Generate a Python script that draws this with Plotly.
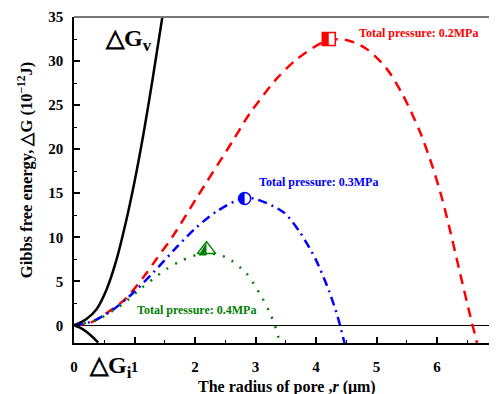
import plotly.graph_objects as go

# --- data ---
gv_r = [0, 0.2, 0.37, 0.54, 0.70, 0.85, 1.0, 1.15, 1.30, 1.46]
gv_g = [0, 0.7, 1.8, 4.1, 7.4, 11.5, 16.3, 21.8, 28.0, 35]

gi_r = [0, 0.1, 0.2, 0.32, 0.40]
gi_g = [0, -0.25, -0.7, -1.4, -1.95]

p02_r = [0, 0.27, 0.54, 0.85, 1.15, 1.36, 1.65, 2.02, 2.62, 2.9, 3.35, 3.68, 4.17, 4.5,
         4.83, 5.16, 5.43, 5.71, 5.93, 6.09, 6.21, 6.37, 6.54, 6.66]
p02_g = [0, 0.3, 1.4, 3.0, 5.5, 7.5, 10.3, 14.4, 20.9, 24.0, 28, 30.2, 32.3, 32.4,
         31.4, 29.2, 26.2, 22.1, 17.9, 14.2, 10.9, 6.2, 1.3, -2.0]

p03_r = [0, 0.32, 0.65, 0.98, 1.31, 1.7, 2.02, 2.35, 2.85, 3.45, 3.73, 4.0, 4.22, 4.36, 4.47]
p03_g = [0, 0.5, 1.8, 3.7, 6.0, 8.9, 11.1, 12.9, 14.5, 12.9, 10.6, 7.4, 3.8, 0.9, -2.0]

p04_r = [0, 0.37, 0.82, 1.11, 1.35, 1.53, 1.76, 2.16, 2.52, 2.85, 2.98, 3.12, 3.23, 3.31, 3.4]
p04_g = [0, 0.6, 2.5, 4.2, 5.5, 6.4, 7.3, 8.2, 7.7, 5.9, 4.6, 3.0, 1.5, 0.2, -1.9]

peak_r = [4.21, 2.82, 2.19]
peak_g = [32.5, 14.4, 8.6]

labels = ["Total pressure: 0.2MPa", "Total pressure: 0.3MPa", "Total pressure: 0.4MPa"]
label_r = [4.67, 3.02, 1.0]
label_g = [33.2, 16.3, 1.7]
colors = ["#ff0000", "#0000ff", "#008000"]

x_ticks = [0, 1, 2, 3, 4, 5, 6, 7]
y_ticks = [0, 5, 10, 15, 20, 25, 30, 35]

SERIF = "Liberation Serif"

fig = go.Figure()

fig.add_trace(go.Scatter(x=gv_r, y=gv_g, mode="lines",
                         line=dict(color="black", width=2.5, shape="spline", smoothing=0.8),
                         showlegend=False, hoverinfo="skip"))
fig.add_trace(go.Scatter(x=gi_r, y=gi_g, mode="lines",
                         line=dict(color="black", width=2.5, shape="spline", smoothing=0.8),
                         showlegend=False, hoverinfo="skip"))

fig.add_trace(go.Scatter(x=p02_r, y=p02_g, mode="lines",
                         line=dict(color=colors[0], width=2.5, dash="10px,7px", shape="spline", smoothing=0.8),
                         showlegend=False))
fig.add_trace(go.Scatter(x=p03_r, y=p03_g, mode="lines",
                         line=dict(color=colors[1], width=2.5, dash="9px,5px,2px,5px", shape="spline", smoothing=0.8),
                         showlegend=False))
fig.add_trace(go.Scatter(x=p04_r, y=p04_g, mode="lines",
                         line=dict(color=colors[2], width=2.5, dash="2px,8px", shape="spline", smoothing=0.8),
                         showlegend=False))

symbols = ["square", "circle", "triangle-up"]
sizes = [13, 12, 16]
for i in range(3):
    fig.add_trace(go.Scatter(x=[peak_r[i]], y=[peak_g[i]], mode="markers",
                             marker=dict(symbol=symbols[i], size=sizes[i], color="white",
                                         line=dict(color=colors[i], width=1.5)),
                             showlegend=False))

# half fills of the markers (pixel-sized, anchored at the marker data points)
fig.add_shape(type="rect", xref="x", yref="y", xsizemode="pixel", ysizemode="pixel",
              xanchor=peak_r[0], yanchor=peak_g[0], x0=-6.5, x1=0, y0=-6.5, y1=6.5,
              fillcolor=colors[0], line=dict(width=0), layer="above")
fig.add_shape(type="path", xref="x", yref="y", xsizemode="pixel", ysizemode="pixel",
              xanchor=peak_r[1], yanchor=peak_g[1], path="M 0 -6 C -8 -6 -8 6 0 6 Z",
              fillcolor=colors[1], line=dict(width=0), layer="above")
fig.add_shape(type="path", xref="x", yref="y", xsizemode="pixel", ysizemode="pixel",
              xanchor=peak_r[2], yanchor=peak_g[2], path="M 0 7 L -8 -6 L 0 -6 Z",
              fillcolor=colors[2], line=dict(width=0), layer="above")

# top border
fig.add_shape(type="line", xref="paper", yref="paper", x0=0, x1=1, y0=1, y1=1,
              line=dict(color="#777777", width=2))

for i in range(3):
    fig.add_annotation(x=label_r[i], y=label_g[i], text=labels[i], showarrow=False,
                       xanchor="left", yanchor="middle",
                       font=dict(family=SERIF, size=12, weight="bold", color=colors[i]))

fig.add_annotation(x=0.9, y=32.4, text="△G<sub>v</sub>", showarrow=False,
                   font=dict(family=SERIF, size=24, weight="bold", color="black"))
fig.add_annotation(xref="x", yref="paper", x=0.6, y=-0.075, yanchor="middle",
                   text="△G<sub>i</sub>", showarrow=False,
                   font=dict(family=SERIF, size=24, weight="bold", color="black"))

# axis titles
fig.add_annotation(xref="paper", yref="paper", x=0.503, y=-0.134, yanchor="middle",
                   text="The radius of pore ,<i>r</i> (μm)", showarrow=False,
                   font=dict(family=SERIF, size=16, weight="bold", color="black"))
fig.add_annotation(xref="paper", yref="paper", x=-0.116, y=0.53, textangle=-90,
                   xanchor="center", yanchor="middle",
                   text="Gibbs free energy, △G (10<sup>−12</sup>J)", showarrow=False,
                   font=dict(family=SERIF, size=16.5, weight="bold", color="black"))

# the page body has an 8px default margin, so the figure is 8px smaller
fig.update_layout(
    width=489, height=386,
    margin=dict(l=66, r=0, t=9, b=51),
    plot_bgcolor="white", paper_bgcolor="white",
    font=dict(family=SERIF, color="black"),
)
fig.update_xaxes(
    range=[0, 6.99], tickvals=x_ticks, ticks="inside", ticklen=6, tickwidth=1.5, tickcolor="black",
    showline=True, linecolor="black", linewidth=1.5, showgrid=False, zeroline=False,
    minor=dict(dtick=0.5, ticks="inside", ticklen=3, tickwidth=1.2, tickcolor="black"),
    tickfont=dict(family=SERIF, size=15, weight="bold"), ticklabelstandoff=9,
    automargin=False,
)
fig.update_yaxes(
    range=[-2, 35], tickvals=y_ticks, ticks="inside", ticklen=6, tickwidth=1.5, tickcolor="black",
    showline=True, linecolor="black", linewidth=1.5, showgrid=False,
    zeroline=True, zerolinecolor="black", zerolinewidth=1.2,
    minor=dict(dtick=2.5, ticks="inside", ticklen=3, tickwidth=1.2, tickcolor="black"),
    tickfont=dict(family=SERIF, size=15, weight="bold"), ticklabelstandoff=6,
    automargin=False,
)

fig.write_html("out.html")
